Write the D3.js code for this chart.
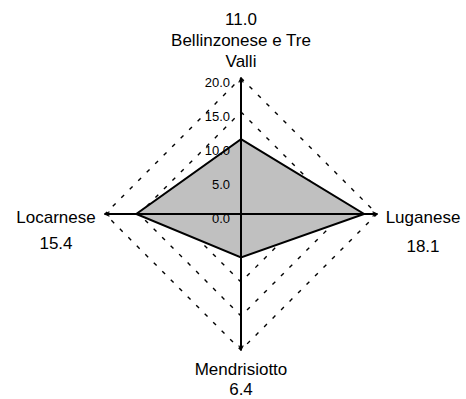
<!DOCTYPE html>
<html>
<head>
<meta charset="utf-8">
<script src="https://cdn.jsdelivr.net/npm/d3@7"></script>
<style>
  html, body { margin: 0; padding: 0; background: #fff; }
  svg { display: block; font-family: "Liberation Sans", Arial, sans-serif; }
</style>
</head>
<body>
<svg id="chart" width="466" height="399"></svg>
<script>
// Regions of Ticino, clockwise from the top
const categories = ["Bellinzonese e Tre Valli", "Luganese", "Mendrisiotto", "Locarnese"];
const values = [11.0, 18.1, 6.4, 15.4];
const ticks = [0, 5, 10, 15, 20];

const svg = d3.select("#chart");
const cx = 241, cy = 214, R = 136;

const r = d3.scaleLinear().domain([0, 20]).range([0, R]);
const angle = d3.scalePoint().domain(d3.range(categories.length)).range([0, 2 * Math.PI * (categories.length - 1) / categories.length]);

const pt = (i, v) => {
  const a = angle(i) - Math.PI / 2;
  return [cx + r(v) * Math.cos(a), cy + r(v) * Math.sin(a)];
};

const defs = svg.append("defs");
defs.append("marker")
  .attr("id", "tip")
  .attr("viewBox", "0 0 8 8")
  .attr("refX", 7).attr("refY", 4)
  .attr("markerWidth", 3).attr("markerHeight", 3)
  .attr("orient", "auto")
  .append("path")
  .attr("d", "M1,1 L7,4 L1,7")
  .attr("fill", "none").attr("stroke", "#000").attr("stroke-width", 1.5);

// dashed grid rings
const ring = d3.line();
svg.append("g").selectAll("path")
  .data(ticks.filter(t => t > 0))
  .join("path")
  .attr("d", t => ring(categories.map((c, i) => pt(i, t))) + "Z")
  .attr("fill", "none")
  .attr("stroke", "#000")
  .attr("stroke-width", 1.4)
  .attr("stroke-dasharray", "4,8");

// data polygon
svg.append("path")
  .attr("d", ring(values.map((v, i) => pt(i, v))) + "Z")
  .attr("fill", "#c0c0c0")
  .attr("stroke", "#000")
  .attr("stroke-width", 2)
  .attr("stroke-linejoin", "miter");

// spokes
svg.append("g").selectAll("line")
  .data(categories)
  .join("line")
  .attr("x1", cx).attr("y1", cy)
  .attr("x2", (c, i) => pt(i, 20)[0])
  .attr("y2", (c, i) => pt(i, 20)[1])
  .attr("stroke", "#000")
  .attr("stroke-width", 2)
  .attr("marker-end", "url(#tip)");

// value axis labels along the top spoke
svg.append("g").selectAll("text")
  .data(ticks)
  .join("text")
  .attr("x", cx - 11)
  .attr("y", t => cy - r(t) + 9)
  .attr("text-anchor", "end")
  .attr("font-size", 13)
  .attr("fill", "#000")
  .text(t => t.toFixed(1));

// category labels with their values
const labelLayout = [
  { x: 241, y: 25, dy: 21 },
  { x: 423, y: 223, dy: 29 },
  { x: 241, y: 375, dy: 20 },
  { x: 56, y: 223, dy: 26 }
];
const labelText = (i) => {
  const val = values[i].toFixed(1);
  if (i === 0) return [val, "Bellinzonese e Tre", "Valli"];
  return [categories[i], val];
};

const lab = svg.append("g").selectAll("text")
  .data(categories)
  .join("text")
  .attr("text-anchor", "middle")
  .attr("font-size", 17)
  .attr("fill", "#000");
lab.each(function (c, i) {
  const L = labelLayout[i];
  d3.select(this).selectAll("tspan")
    .data(labelText(i))
    .join("tspan")
    .attr("x", L.x)
    .attr("y", (s, k) => L.y + k * L.dy)
    .text(s => s);
});
</script>
</body>
</html>
